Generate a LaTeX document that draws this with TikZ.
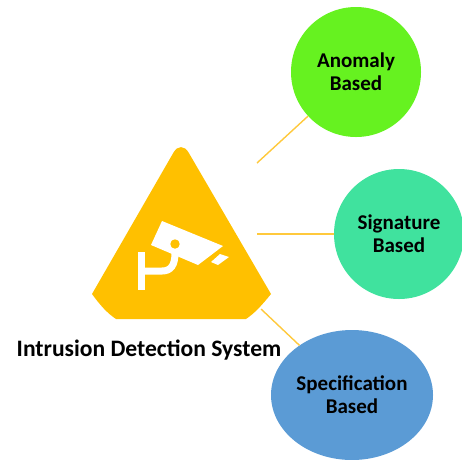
\documentclass[tikz,border=0pt]{standalone}
\usepackage{fontspec}
\setmainfont{Carlito}
\usetikzlibrary{shapes.geometric}
\definecolor{alarm}{HTML}{FFC000}
\definecolor{linkcol}{HTML}{FFC93C}
\definecolor{anomalycol}{HTML}{66F220}
\definecolor{signaturecol}{HTML}{40E29E}
\definecolor{speccol}{HTML}{5B9BD5}
\begin{document}
\begin{tikzpicture}[x=1pt,y=-1pt,font=\bfseries\fontsize{21}{23}\selectfont]
      \tikzstyle{type node}=[circle,inner sep=0,minimum size=130pt,align=center]
      \tikzstyle{link}=[draw=linkcol,line width=1.4pt]
      \tikzstyle{bracket}=[draw=white,line width=7pt]
      \useasboundingbox (0,0) rectangle (462,459);

      % sign with camera
      \fill[alarm] (92,294) [rounded corners=15pt] -- (181,139.5) [sharp corners] -- (271,294)
          .. controls (262,305) and (255,313) .. (246,319) -- (116,319)
          .. controls (107,313) and (100,305) .. (92,294) -- cycle;
      \fill[white] (162,221) -- (223,246) -- (198,265) -- (151,245) -- cycle;
      \fill[white] (220,254) -- (229,257) -- (218,265) -- (211,262) -- cycle;
      \fill[alarm] (175,244) circle (4.7);
      \draw[bracket] (141.5,252) -- (141.5,290);
      \draw[bracket] (141.5,271) -- (162,271) .. controls (171,271) and (175,265) .. (175,253);

      % types
      \node(anomaly)[type node,fill=anomalycol] at (356,72) {Anomaly\\Based};
      \node(signature)[type node,fill=signaturecol] at (399,234) {Signature\\Based};
      \node(specification)[type node,ellipse,minimum width=162pt,fill=speccol] at (352,395) {Specification\\Based};
      \node(title)[font=\bfseries\fontsize{23.6}{26}\selectfont,inner sep=0] at (149,350) {Intrusion Detection System};

      \coordinate(a) at (257,163);
      \coordinate(s) at (257,234);
      \coordinate(p) at (261,309);
      \draw[link] (a) -- (anomaly);
      \draw[link] (s) -- (signature);
      \draw[link] (p) -- (specification);
\end{tikzpicture}
\end{document}
